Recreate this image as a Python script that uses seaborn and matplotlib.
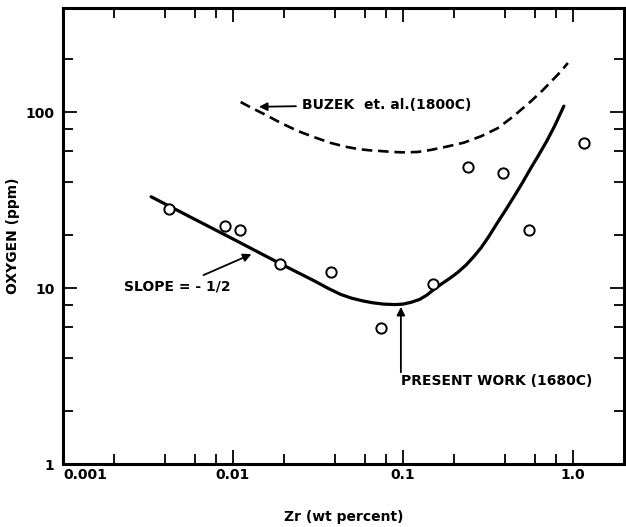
"""Oxygen vs Zr content (log-log), with Buzek et al. comparison curve."""
import numpy as np
import pandas as pd
import matplotlib
matplotlib.use('Agg')
import matplotlib.pyplot as plt
from matplotlib.ticker import FixedLocator, NullFormatter
import seaborn as sns

sns.set_style("ticks")
plt.rcParams['font.family'] = ['DejaVu Sans']
plt.rcParams['font.weight'] = 'bold'
for key in ("text.color", "axes.labelcolor", "xtick.color", "ytick.color"):
    plt.rcParams[key] = "black"

# measured points
zr_pct = [0.0042, 0.009, 0.011, 0.019, 0.038, 0.074, 0.15, 0.24, 0.39, 0.55, 1.16]
oxygen_ppm = [28, 22.5, 21.5, 13.7, 12.3, 5.9, 10.5, 49, 45, 21.5, 67]

# present work fit (1680C)
present_x = [0.0033, 0.006, 0.01, 0.02, 0.03, 0.036, 0.043, 0.05, 0.058, 0.066,
             0.077, 0.09, 0.1, 0.112, 0.125, 0.138, 0.152, 0.17, 0.19, 0.211,
             0.235, 0.26, 0.288, 0.32, 0.36, 0.40, 0.45, 0.5, 0.566, 0.63,
             0.7, 0.78, 0.885]
present_y = [33, 24.5, 19.0, 13.4, 11.0, 10.0, 9.2, 8.75, 8.45, 8.25,
             8.1, 8.05, 8.1, 8.3, 8.6, 9.1, 9.8, 10.6, 11.4, 12.3,
             13.5, 15.0, 16.9, 19.6, 23.5, 27.5, 33, 39, 48, 57,
             68, 83, 108]

# Buzek et al. (1800C)
buzek_x = [0.0111, 0.013, 0.0152, 0.019, 0.0241, 0.03, 0.0377, 0.046, 0.055,
           0.065, 0.0743, 0.087, 0.1, 0.1225, 0.146, 0.18, 0.2286, 0.29, 0.362,
           0.45, 0.566, 0.66, 0.76, 0.85, 0.935]
buzek_y = [114, 105, 97.5, 87, 78, 72, 66.7, 63.5, 61.5,
           60.5, 60, 59.3, 59, 59.3, 60.9, 63.5, 67, 73, 81,
           95, 115, 132, 152, 170, 190]

x_ticks = [0.001, 0.01, 0.1, 1.0]
x_tick_labels = ["0.001", "0.01", "0.1", "1.0"]
y_ticks = [1, 10, 100]
y_tick_labels = ["1", "10", "100"]

fig = plt.figure(figsize=(6.26, 5.27), dpi=100)
ax = fig.add_axes([63 / 626, 1 - 464 / 527, (624 - 63) / 626, (464 - 8) / 527])
ax.set_xscale("log")
ax.set_yscale("log")

sns.lineplot(x=present_x, y=present_y, ax=ax, color="black", linewidth=2.3,
             sort=False, estimator=None)
sns.lineplot(x=buzek_x, y=buzek_y, ax=ax, color="black", linewidth=1.9,
             sort=False, estimator=None)
ax.lines[-1].set_dashes((4, 2.2))
sns.scatterplot(x=zr_pct, y=oxygen_ppm, ax=ax, marker="o", s=55,
                facecolor="white", edgecolor="black", linewidth=1.4, zorder=5)

ax.set_xlim(0.001, 2.0)
ax.set_ylim(1, 390)

ax.xaxis.set_major_locator(FixedLocator(x_ticks))
ax.set_xticklabels(x_tick_labels)
ax.yaxis.set_major_locator(FixedLocator(y_ticks))
ax.set_yticklabels(y_tick_labels)
minor_x = [d * m for d in [0.001, 0.01, 0.1, 1.0] for m in (2, 4, 6, 8)]
minor_y = [d * m for d in [1, 10, 100] for m in (2, 4, 6, 8)]
ax.xaxis.set_minor_locator(FixedLocator(minor_x))
ax.yaxis.set_minor_locator(FixedLocator(minor_y))
ax.xaxis.set_minor_formatter(NullFormatter())
ax.yaxis.set_minor_formatter(NullFormatter())
ax.xaxis.get_majorticklabels()[0].set_horizontalalignment("left")

ax.tick_params(which="both", direction="in", top=True, right=True,
               width=1.3, color="black")
ax.tick_params(which="major", length=10)
ax.tick_params(which="minor", length=7)
ax.tick_params(axis="x", labelsize=10, pad=3)
ax.tick_params(axis="y", labelsize=10, pad=6)
for s in ax.spines.values():
    s.set_linewidth(2.2)
    s.set_color("black")

ax.set_xlabel("Zr (wt percent)", fontsize=10, fontweight="bold")
ax.set_ylabel("OXYGEN (ppm)", fontsize=10, fontweight="bold")
ax.xaxis.set_label_coords(0.5, -0.10)
ax.yaxis.set_label_coords(-0.077, 0.5)

arrow = dict(arrowstyle="-|>", color="black", lw=1.3, mutation_scale=12)
ax.annotate("BUZEK  et. al.(1800C)", xy=(0.0137, 107), xytext=(0.0255, 110),
            fontsize=10, fontweight="bold", va="center", ha="left",
            arrowprops=arrow)
ax.annotate("SLOPE = - 1/2", xy=(0.0133, 15.8), xytext=(0.0097, 10.2),
            fontsize=10, fontweight="bold", va="center", ha="right",
            arrowprops=arrow)
ax.annotate("", xy=(0.0973, 8.1), xytext=(0.0973, 3.2), arrowprops=arrow)
ax.text(0.0973, 2.96, "PRESENT WORK (1680C)", fontsize=10, fontweight="bold",
        va="center", ha="left")

fig.savefig("out.png", dpi=100)
